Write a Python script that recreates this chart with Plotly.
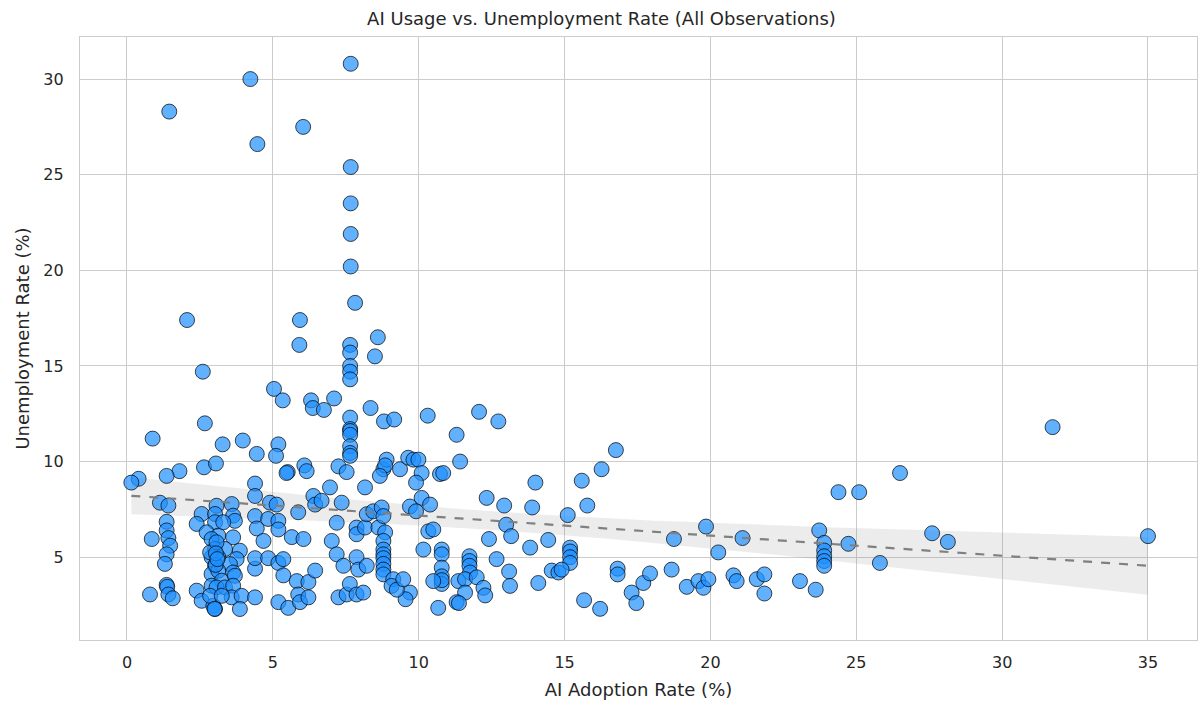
import numpy as np
import plotly.graph_objects as go

# AI adoption rate (%) and unemployment rate (%) for each observation
ai_adoption = [
    1.45, 4.23, 4.47, 6.04, 7.67, 7.67, 7.67, 7.67, 7.67, 7.82,
    2.06, 5.93, 5.91, 7.65, 7.65, 8.6, 8.5, 7.65, 7.65, 7.65,
    2.6, 5.04, 5.34, 6.31, 6.37, 6.75, 7.1, 7.65, 7.65, 7.65,
    7.65, 7.65, 7.65, 7.65, 8.35, 8.81, 9.16, 10.31, 12.07, 12.73,
    11.3, 2.67, 0.88, 3.28, 3.97, 4.45, 5.19, 5.11, 2.64, 3.05,
    1.8, 1.36, 0.4, 0.15, 6.08, 6.16, 5.51, 7.25, 7.53, 8.79,
    8.9, 8.85, 8.67, 9.36, 9.64, 11.42, 9.82, 9.99, 10.1, 10.73,
    10.84, 14.0, 9.91, 12.33, 10.1, 10.39, 9.7, 9.91, 12.93, 13.89,
    13.0, 13.17, 10.33, 10.5, 12.41, 14.44, 13.82, 10.16, 10.79, 10.79,
    10.79, 10.79, 10.79, 10.79, 10.5, 11.74, 11.74, 11.74, 11.76, 11.36,
    11.59, 11.99, 12.22, 12.28, 11.59, 11.3, 11.38, 10.67, 12.67, 13.1,
    13.13, 14.1, 14.56, 14.79, 9.7, 9.55, 16.76, 16.27, 15.59, 15.78,
    15.11, 15.19, 15.19, 15.19, 15.19, 14.9, 16.82, 16.82, 15.67, 16.22,
    17.3, 17.46, 17.7, 17.93, 18.67, 18.75, 19.19, 19.59, 19.76, 19.93,
    19.85, 20.27, 20.79, 20.9, 21.1, 21.59, 21.85, 21.85, 23.07, 31.73,
    26.5, 24.39, 25.1, 23.73, 23.9, 23.9, 23.9, 23.9, 23.9, 24.73,
    25.81, 27.6, 28.14, 35.0, 23.61,
    1.13, 1.42, 1.36, 1.36, 0.85, 1.42, 1.48, 1.36, 1.3, 1.36,
    1.38, 0.79, 1.42, 1.57, 4.39, 4.39,
    2.56, 3.07, 3.59, 3.64, 2.39, 3.02, 3.02, 3.7, 2.73, 3.13,
    3.64, 2.9, 3.87, 3.02, 3.36, 2.9, 3.13, 3.76, 3.02, 3.53,
    2.9, 3.13, 3.64, 3.25, 3.7, 2.9, 2.39, 2.56, 3.07, 3.36,
    3.64, 3.59, 3.93, 3.87, 2.96, 3.02, 2.85, 3.25, 3.3, 2.85,
    3.07, 3.04, 3.0, 3.05, 3.1,
    4.39, 4.39, 4.39, 4.39, 4.45,
    4.9, 5.13, 4.84, 5.19, 5.19, 4.68, 5.65, 6.05, 5.87, 6.39,
    6.45, 6.67, 6.96, 7.36, 8.16, 7.19, 7.02, 7.19, 7.42, 7.87,
    7.93, 8.22, 7.87, 7.87, 8.16, 8.22, 8.44, 8.62, 8.73, 8.79,
    8.85, 8.79, 8.79, 8.79, 8.79, 8.79, 8.79, 8.79, 9.13, 9.07,
    9.25, 9.47, 4.84, 5.19, 5.36, 5.36, 5.82, 6.22, 6.45, 5.19,
    5.53, 5.87, 5.93, 6.22, 7.25, 7.53, 7.64, 7.87, 8.1, 5.47,
]

unemployment = [
    28.3, 30.0, 26.6, 27.5, 30.8, 25.4, 23.5, 21.9, 20.2, 18.3,
    17.4, 17.4, 16.1, 16.1, 15.7, 16.5, 15.5, 15.0, 14.7, 14.3,
    14.7, 13.8, 13.2, 13.2, 12.8, 12.7, 13.3, 12.3, 11.7, 11.6,
    11.4, 10.8, 10.45, 10.3, 12.8, 12.1, 12.2, 12.4, 12.6, 12.1,
    11.4, 12.0, 11.2, 10.9, 11.1, 10.4, 10.9, 10.3, 9.7, 9.9,
    9.5, 9.25, 9.1, 8.9, 9.8, 9.5, 9.45, 9.75, 9.45, 9.6,
    10.1, 9.8, 9.25, 9.6, 10.2, 10.0, 10.1, 10.1, 9.4, 9.35,
    9.4, 8.9, 8.9, 8.1, 8.1, 7.75, 7.65, 7.4, 7.7, 7.6,
    6.7, 6.1, 6.35, 6.45, 5.95, 5.9, 5.5, 5.4, 5.4, 5.15,
    4.45, 4.0, 3.6, 3.8, 3.75, 5.05, 4.8, 4.55, 4.2, 3.75,
    3.85, 3.95, 3.4, 3.0, 3.15, 2.65, 2.6, 2.35, 4.9, 4.25,
    3.5, 3.65, 4.3, 4.2, 3.15, 2.8, 10.6, 9.6, 9.0, 7.7,
    7.2, 5.5, 5.3, 5.0, 4.7, 4.35, 4.4, 4.1, 2.75, 2.3,
    3.15, 2.6, 3.65, 4.15, 4.35, 5.95, 3.45, 3.75, 3.4, 3.85,
    6.6, 5.25, 4.05, 3.75, 6.0, 3.85, 4.1, 3.1, 3.75, 11.8,
    9.4, 8.4, 8.4, 6.4, 5.75, 5.35, 5.05, 4.8, 4.55, 5.7,
    4.7, 6.25, 5.8, 6.1, 3.3,
    7.85, 7.7, 6.85, 6.4, 5.95, 6.0, 5.6, 5.15, 4.65, 3.55,
    3.45, 3.05, 3.05, 2.85, 8.85, 8.2,
    7.26, 7.69, 7.78, 7.17, 6.74, 7.26, 6.83, 6.9, 6.3, 6.13,
    6.04, 5.95, 5.34, 5.43, 5.43, 5.0, 5.0, 4.9, 4.55, 4.64,
    4.12, 4.29, 4.2, 3.77, 4.03, 3.51, 3.25, 2.72, 3.42, 3.42,
    3.51, 2.9, 2.98, 2.29, 2.46, 2.29, 2.98, 2.98, 6.83, 5.25,
    5.78, 4.6, 2.3, 5.2, 4.9,
    2.9, 4.4, 4.95, 7.15, 6.5,
    7.85, 7.75, 7.0, 6.9, 6.45, 5.85, 6.05, 5.95, 7.35, 8.2,
    7.75, 7.95, 8.65, 7.85, 8.65, 6.8, 5.85, 5.15, 4.55, 5.0,
    4.35, 4.55, 6.55, 6.2, 6.55, 7.25, 7.4, 6.55, 7.6, 7.15,
    6.3, 5.85, 5.4, 5.15, 4.95, 4.65, 4.35, 4.1, 3.85, 3.5,
    3.3, 3.85, 4.95, 4.7, 4.9, 4.05, 3.75, 3.7, 4.3, 2.65,
    2.35, 3.05, 2.65, 2.9, 2.9, 3.05, 3.6, 3.05, 3.15, 9.4,
]

x_ticks = [0, 5, 10, 15, 20, 25, 30, 35]
y_ticks = [5, 10, 15, 20, 25, 30]

x = np.asarray(ai_adoption, dtype=float)
y = np.asarray(unemployment, dtype=float)

# Least-squares trend line with a 95% band from a heteroscedasticity-robust
# (HC3 sandwich) covariance of the coefficients
X = np.column_stack([np.ones_like(x), x])
xtx_inv = np.linalg.inv(X.T @ X)
beta = xtx_inv @ X.T @ y
resid = y - X @ beta
lev = np.einsum("ij,jk,ik->i", X, xtx_inv, X)
w = (resid / (1.0 - lev)) ** 2
cov = xtx_inv @ (X.T * w) @ X @ xtx_inv

xg = np.linspace(x.min(), x.max(), 100)
G = np.column_stack([np.ones_like(xg), xg])
yg = G @ beta
se = np.sqrt(np.einsum("ij,jk,ik->i", G, cov, G))
upper = yg + 1.96 * se
lower = yg - 1.96 * se

fig = go.Figure()

fig.add_trace(go.Scatter(
    x=np.concatenate([xg, xg[::-1]]),
    y=np.concatenate([upper, lower[::-1]]),
    fill="toself",
    fillcolor="rgba(128,128,128,0.15)",
    line=dict(width=0),
    hoverinfo="skip",
    showlegend=False,
))

fig.add_trace(go.Scatter(
    x=x, y=y,
    mode="markers",
    marker=dict(
        size=15,
        color="rgba(30,144,255,0.7)",
        line=dict(color="rgba(0,0,0,0.7)", width=1),
    ),
    showlegend=False,
))

fig.add_trace(go.Scatter(
    x=xg, y=yg,
    mode="lines",
    line=dict(color="#808080", width=2.2, dash="dash"),
    hoverinfo="skip",
    showlegend=False,
))

font_color = "#262626"
grid_color = "#cccccc"

fig.update_layout(
    width=1203,
    height=704,
    paper_bgcolor="white",
    plot_bgcolor="white",
    margin=dict(l=80, r=6, t=37, b=64),
    font=dict(family="DejaVu Sans", color=font_color, size=16),
    title=dict(
        text="AI Usage vs. Unemployment Rate (All Observations)",
        x=0.5, xanchor="center",
        y=1 - 19 / 704, yanchor="middle",
        font=dict(size=18, color=font_color),
    ),
)

fig.update_xaxes(
    range=[-1.61, 36.68],
    tickvals=x_ticks,
    ticktext=[str(t) for t in x_ticks],
    showgrid=True, gridcolor=grid_color, gridwidth=1.3,
    zeroline=False,
    showline=True, linecolor=grid_color, linewidth=1.3, mirror=True,
    ticks="", ticklabelstandoff=8,
    tickfont=dict(size=16, color=font_color),
    title=dict(text="AI Adoption Rate (%)", font=dict(size=18, color=font_color), standoff=12),
)

fig.update_yaxes(
    range=[0.67, 32.2],
    tickvals=y_ticks,
    ticktext=[str(t) for t in y_ticks],
    showgrid=True, gridcolor=grid_color, gridwidth=1.3,
    zeroline=False,
    showline=True, linecolor=grid_color, linewidth=1.3, mirror=True,
    ticks="", ticklabelstandoff=12,
    tickfont=dict(size=16, color=font_color),
    title=dict(text="Unemployment Rate (%)", font=dict(size=18, color=font_color), standoff=8),
)

fig.write_html("out.html")
